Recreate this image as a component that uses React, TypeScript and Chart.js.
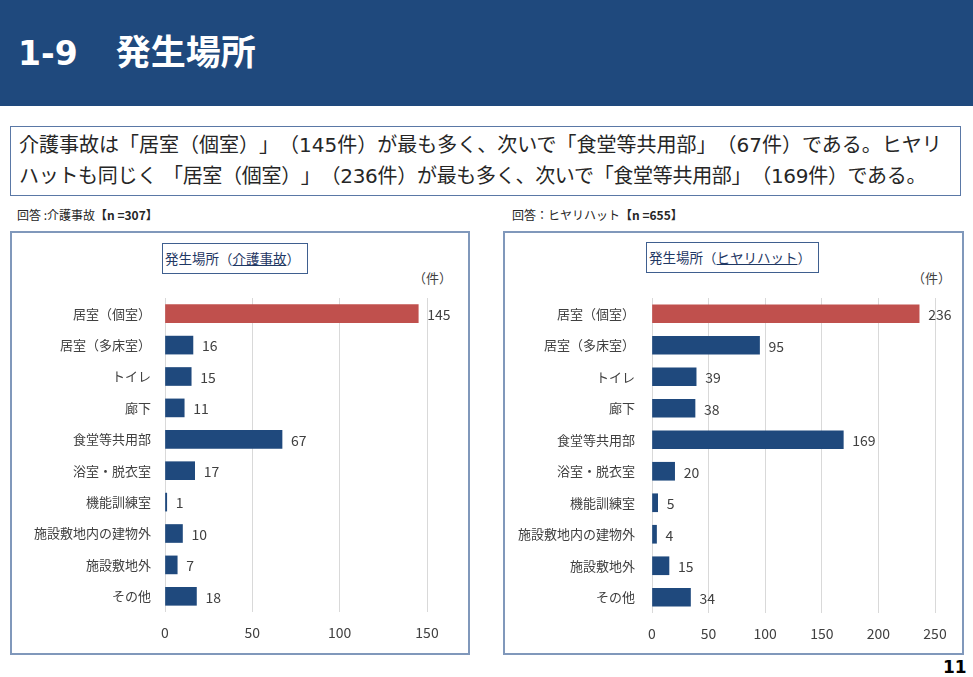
import React, { useEffect, useRef } from "react";
import { Chart, registerables } from "chart.js";

Chart.register(...registerables);

const categories = [
  "居室（個室）",
  "居室（多床室）",
  "トイレ",
  "廊下",
  "食堂等共用部",
  "浴室・脱衣室",
  "機能訓練室",
  "施設敷地内の建物外",
  "施設敷地外",
  "その他",
];
const accidentValues = [145, 16, 15, 11, 67, 17, 1, 10, 7, 18];
const hiyariValues = [236, 95, 39, 38, 169, 20, 5, 4, 15, 34];
const accidentMax = 150;
const hiyariMax = 250;
const tickStep = 50;

const RED = "#c0504d";
const BLUE = "#1f497d";
const FONT = "'Noto Sans CJK JP', 'Noto Sans', sans-serif";
const MIXFONT = "'DejaVu Sans', 'Noto Sans CJK JP', sans-serif";

type BarProps = {
  values: number[];
  max: number;
  left: number;
  top: number;
  width: number;
  height: number;
  area: { left: number; right: number; top: number; bottom: number };
  labelPad: number;
};

const valueLabelPlugin = {
  id: "valueLabels",
  afterDatasetsDraw(chart: any) {
    const ctx = chart.ctx;
    const meta = chart.getDatasetMeta(0);
    const data = chart.data.datasets[0].data as number[];
    ctx.save();
    ctx.font = `14px ${FONT}`;
    ctx.fillStyle = "#404040";
    ctx.textAlign = "left";
    ctx.textBaseline = "middle";
    meta.data.forEach((el: any, i: number) => {
      ctx.fillText(String(data[i]), el.x + 9, el.y + 1);
    });
    ctx.restore();
  },
};

function BarChart(p: BarProps) {
  const ref = useRef<HTMLCanvasElement | null>(null);
  useEffect(() => {
    if (!ref.current) return;
    const colors = p.values.map((_, i) => (i === 0 ? RED : BLUE));
    // desired chart area in canvas coordinates
    const want = {
      left: p.area.left - p.left,
      right: p.area.right - p.left,
      top: p.area.top - p.top,
      bottom: p.area.bottom - p.top,
    };
    const sizes = { yWidth: want.left, xHeight: p.height - want.bottom };
    const chart = new Chart(ref.current, {
      type: "bar",
      data: {
        labels: categories,
        datasets: [
          {
            data: p.values,
            backgroundColor: colors,
            borderWidth: 0,
            barThickness: 18,
          },
        ],
      },
      options: {
        indexAxis: "y",
        animation: false,
        responsive: false,
        maintainAspectRatio: false,
        layout: { padding: { top: want.top, right: p.width - want.right, left: 0, bottom: 0 } },
        plugins: {
          legend: { display: false },
          tooltip: { enabled: false },
          title: { display: false },
        },
        scales: {
          x: {
            min: 0,
            max: p.max,
            grid: { color: "#d9d9d9", lineWidth: 1, drawTicks: false },
            border: { display: false },
            ticks: {
              stepSize: tickStep,
              padding: 12,
              color: "#404040",
              font: { size: 14, family: FONT },
            },
            afterFit: (scale: any) => {
              scale.height = sizes.xHeight;
              scale.paddingLeft = 0;
              scale.paddingRight = 0;
            },
          },
          y: {
            grid: { display: false, drawTicks: false },
            border: { display: false },
            ticks: {
              padding: p.labelPad,
              color: "#404040",
              font: { size: 13, family: FONT },
              autoSkip: false,
            },
            afterFit: (scale: any) => {
              scale.width = sizes.yWidth;
              scale.paddingTop = 0;
              scale.paddingBottom = 0;
            },
          },
        },
      },
      plugins: [valueLabelPlugin],
    });
    // self-correct layout so that the plot area lands exactly where wanted
    for (let k = 0; k < 3; k++) {
      const a = chart.chartArea;
      const pad: any = (chart.options.layout as any).padding;
      const dTop = want.top - a.top;
      const dBottom = a.bottom - want.bottom;
      const dLeft = want.left - a.left;
      const dRight = a.right - want.right;
      if (Math.abs(dTop) + Math.abs(dBottom) + Math.abs(dLeft) + Math.abs(dRight) < 0.5) break;
      pad.top += dTop;
      sizes.xHeight += dBottom;
      sizes.yWidth += dLeft;
      pad.right += dRight;
      chart.update();
    }
    return () => chart.destroy();
  }, []);
  return (
    <canvas
      ref={ref}
      width={p.width}
      height={p.height}
      style={{ position: "absolute", left: p.left, top: p.top, width: p.width, height: p.height }}
    />
  );
}

const abs = (s: React.CSSProperties): React.CSSProperties => ({ position: "absolute", ...s });

export default function App() {
  useEffect(() => {
    document.body.style.margin = "0";
  }, []);
  const noTrim: any = { textSpacingTrim: "space-all" };
  return (
    <div
      style={{
        position: "fixed",
        left: 0,
        top: 0,
        width: 973,
        height: 677,
        background: "#ffffff",
        fontFamily: FONT,
        overflow: "hidden",
      }}
    >
      {/* Title bar */}
      <div style={abs({ left: 0, top: 0, width: 973, height: 106, background: "#1f497d" })} />
      <div
        style={abs({
          left: 18,
          top: 31,
          color: "#ffffff",
          fontWeight: 700,
          fontSize: 33,
          lineHeight: "44px",
          whiteSpace: "pre",
          fontFamily: MIXFONT,
        })}
      >
        1-9<span style={{ fontSize: 35, paddingLeft: 3 }}>　発生場所</span>
      </div>

      {/* Summary box */}
      <div
        style={abs({
          left: 10,
          top: 126,
          width: 949,
          height: 68,
          border: "1.5px solid #5a78a6",
        })}
      />
      <div
        style={abs({
          left: 19,
          top: 130,
          color: "#262626",
          fontSize: 20,
          lineHeight: "31px",
          whiteSpace: "pre",
          fontFamily: MIXFONT,
          ...noTrim,
        })}
      >
        介護事故は「居室（個室）」（145件）が最も多く、次いで「食堂等共用部」（67件）である。ヒヤリ
      </div>
      <div
        style={abs({
          left: 19,
          top: 161,
          color: "#262626",
          fontSize: 20,
          lineHeight: "31px",
          whiteSpace: "pre",
          fontFamily: MIXFONT,
          letterSpacing: "-0.3px",
          ...noTrim,
        })}
      >
        ハットも同じく 「居室（個室）」（236件）が最も多く、次いで「食堂等共用部」（169件）である。
      </div>

      {/* Sub labels */}
      <div style={abs({ left: 17, top: 206, fontSize: 12, color: "#262626", lineHeight: "18px", whiteSpace: "pre", ...noTrim })}>
        回答 :介護事故<b>【n =307】</b>
      </div>
      <div style={abs({ left: 512, top: 206, fontSize: 12, color: "#262626", lineHeight: "18px", whiteSpace: "pre", ...noTrim })}>
        回答：ヒヤリハット<b>【n =655】</b>
      </div>

      {/* Panels */}
      <div style={abs({ left: 10, top: 231, width: 456, height: 420, border: "2px solid #8098bb" })} />
      <div style={abs({ left: 503, top: 231, width: 457, height: 420, border: "2px solid #8098bb" })} />

      {/* Chart titles */}
      <div
        style={abs({
          left: 162,
          top: 243,
          width: 146,
          height: 31,
          border: "1.5px solid #3f5f8f",
          boxSizing: "border-box",
        })}
      />
      <div style={abs({ left: 165, top: 249, fontSize: 13.5, color: "#1f3864", lineHeight: "18px", whiteSpace: "pre", ...noTrim })}>
        発生場所（<span style={{ textDecoration: "underline" }}>介護事故</span>）
      </div>
      <div
        style={abs({
          left: 646,
          top: 242,
          width: 173,
          height: 31,
          border: "1.5px solid #3f5f8f",
          boxSizing: "border-box",
        })}
      />
      <div style={abs({ left: 649, top: 248, fontSize: 13.5, color: "#1f3864", lineHeight: "18px", whiteSpace: "pre", ...noTrim })}>
        発生場所（<span style={{ textDecoration: "underline" }}>ヒヤリハット</span>）
      </div>

      {/* Unit labels */}
      <div style={abs({ left: 413, top: 269, fontSize: 13, color: "#404040", lineHeight: "18px", ...noTrim })}>（件）</div>
      <div style={abs({ left: 912, top: 269, fontSize: 13, color: "#404040", lineHeight: "18px", ...noTrim })}>（件）</div>

      <BarChart
        values={accidentValues}
        max={accidentMax}
        left={11}
        top={285}
        width={456}
        height={362}
        area={{ left: 165, right: 427, top: 298, bottom: 612 }}
        labelPad={14}
      />
      <BarChart
        values={hiyariValues}
        max={hiyariMax}
        left={504}
        top={285}
        width={456}
        height={362}
        area={{ left: 652, right: 935, top: 298, bottom: 613 }}
        labelPad={17}
      />

      {/* Page number */}
      <div style={abs({ left: 943, top: 657, fontSize: 17, fontWeight: 700, color: "#000000", lineHeight: "20px", fontFamily: MIXFONT })}>
        11
      </div>
    </div>
  );
}
